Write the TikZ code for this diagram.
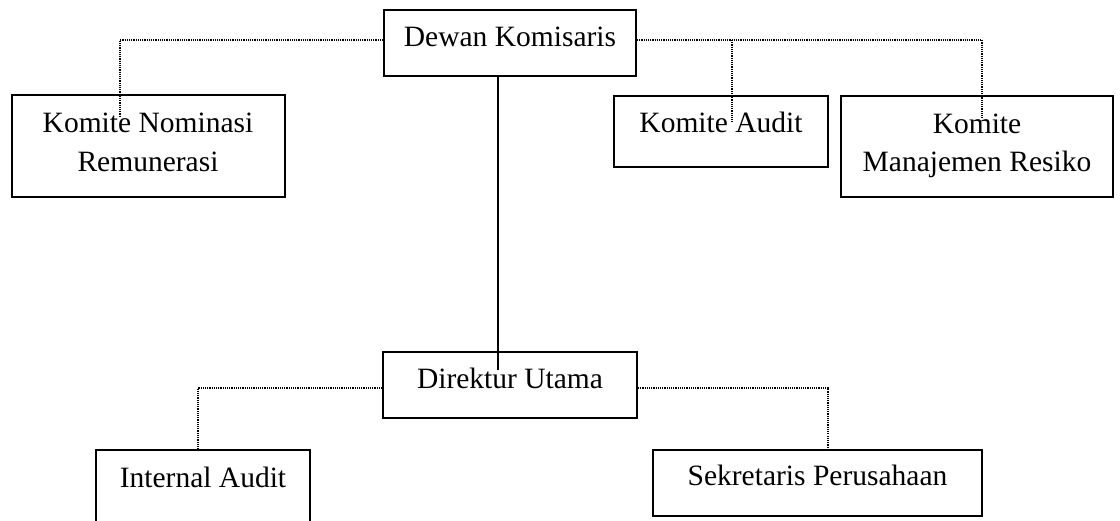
\documentclass[tikz,border=0pt]{standalone}
\usepackage{fontspec}
\setmainfont{Liberation Serif}
\begin{document}
\begin{tikzpicture}[x=1pt,y=-1pt,
  orgbox/.style={draw=black,line width=1.8pt,rectangle,inner sep=0pt,fill=white},
  lbl/.style={inner sep=0pt,anchor=base,font=\fontsize{29.5}{39}\selectfont},
  dotline/.style={draw=black,line width=1.6pt,dash pattern=on 1.2pt off 1pt},
  solidline/.style={draw=black,line width=1.8pt}]
\useasboundingbox (0,0) rectangle (1120,521);
\clip (0,0) rectangle (1120,521);

% boxes
\node[orgbox,minimum width=252pt,minimum height=66pt] (dk) at (510,43) {};
\node[orgbox,minimum width=273pt,minimum height=102pt] (kn) at (148.5,146) {};
\node[orgbox,minimum width=214pt,minimum height=71pt] (ka) at (721,131.5) {};
\node[orgbox,minimum width=272pt,minimum height=101pt] (km) at (977,146.5) {};
\node[orgbox,minimum width=254pt,minimum height=66pt] (du) at (510,385) {};
\node[orgbox,minimum width=214pt,minimum height=90pt] (ia) at (203,495) {};
\node[orgbox,minimum width=329pt,minimum height=66pt] (sp) at (817.5,483) {};

% connector end points
\coordinate (dkL) at ([yshift=3pt]dk.west);
\coordinate (dkR) at ([yshift=3pt]dk.east);
\coordinate (duL) at ([yshift=-3pt]du.west);
\coordinate (duR) at ([yshift=-3pt]du.east);
\coordinate (knT) at (120,117);
\coordinate (kaT) at (732,122);
\coordinate (kmT) at (982,119);
\coordinate (iaT) at (198,450);
\coordinate (spT) at (828,450);
\coordinate (duT) at (498,370);

% connectors
\draw[dotline] (dkL) -| (knT);
\draw[dotline] (dkR) -| (kmT);
\draw[dotline] (kaT |- dkR) -- (kaT);
\draw[dotline] (duL) -| (iaT);
\draw[dotline] (duR) -| (spT);
\draw[solidline] (duT |- dk.south) -- (duT);

% labels
\node[lbl] (dkt) at (510,47) {Dewan Komisaris};
\node[lbl] (knt1) at (148,133) {Komite Nominasi};
\node[lbl] (knt2) at (148,172) {Remunerasi};
\node[lbl] (kat) at (721,133) {Komite Audit};
\node[lbl] (kmt1) at (977,134) {Komite};
\node[lbl] (kmt2) at (977,172) {Manajemen Resiko};
\node[lbl] (dut) at (510,389) {Direktur Utama};
\node[lbl] (iat) at (203,487) {Internal Audit};
\node[lbl] (spt) at (817.5,485) {Sekretaris Perusahaan};
\end{tikzpicture}
\end{document}
